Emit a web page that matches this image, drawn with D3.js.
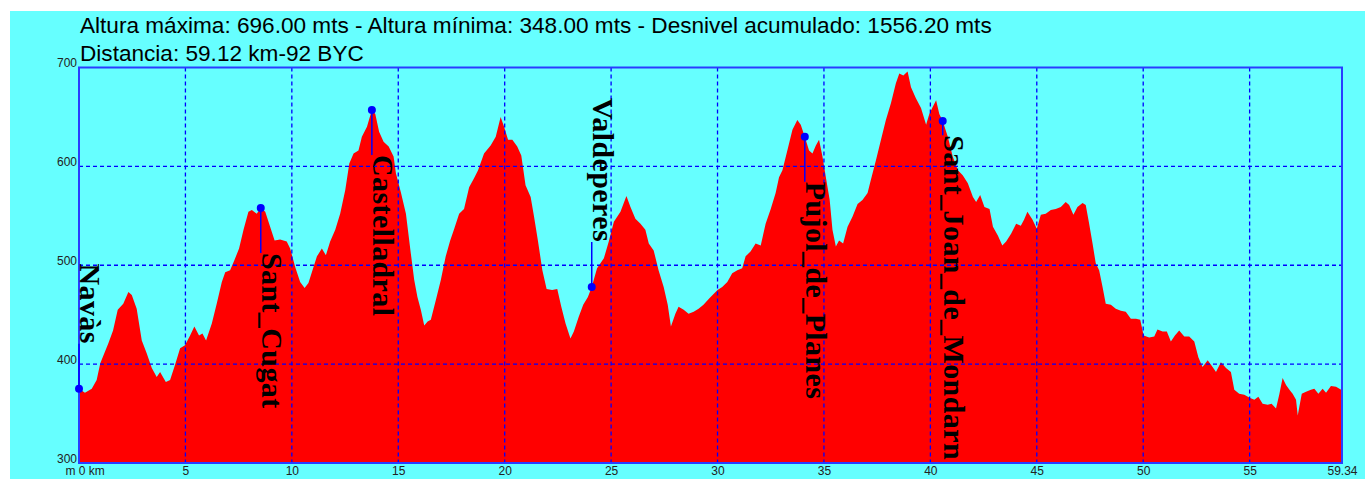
<!DOCTYPE html>
<html>
<head>
<meta charset="utf-8">
<script src="https://cdn.jsdelivr.net/npm/d3@7"></script>
<style>
  body { margin: 0; background: #fff; }
  svg { display: block; }
</style>
</head>
<body>
<svg id="perfil" width="1365" height="479"></svg>
<script>
// perfil de altura: distancia (km) y altura (m)
var distKm = [0, 0.28, 0.6, 0.83, 1.0, 1.38, 1.6, 1.82, 2.08, 2.32, 2.48, 2.71, 2.95, 3.18, 3.42, 3.65, 3.81, 4.08, 4.28, 4.51,
  4.75, 4.98, 5.22, 5.42, 5.64, 5.8, 5.97, 6.24, 6.47, 6.71, 6.87, 7.1, 7.3, 7.52, 7.73, 7.96, 8.12, 8.35, 8.54, 8.75,
  8.98, 9.19, 9.45, 9.76, 9.92, 10.16, 10.39, 10.6, 10.78, 10.97, 11.18, 11.41, 11.6, 11.8, 12.04, 12.27, 12.51, 12.7, 12.9, 13.13,
  13.29, 13.53, 13.76, 13.92, 14.1, 14.31, 14.55, 14.78, 14.89, 15.13, 15.36, 15.59, 15.75, 15.9, 16.06, 16.22, 16.38, 16.53, 16.77, 17.0,
  17.23, 17.44, 17.63, 17.86, 18.09, 18.33, 18.56, 18.75, 19.03, 19.34, 19.58, 19.81, 19.97, 20.16, 20.36, 20.59, 20.78, 20.98, 21.22, 21.38,
  21.56, 21.77, 21.97, 22.23, 22.47, 22.66, 22.86, 23.09, 23.25, 23.48, 23.69, 23.91, 24.09, 24.34, 24.66, 24.89, 25.13, 25.44, 25.72, 25.91,
  26.14, 26.38, 26.61, 26.77, 27.0, 27.23, 27.47, 27.66, 27.81, 28.02, 28.17, 28.41, 28.64, 28.88, 29.11, 29.34, 29.63, 30.0, 30.22, 30.46,
  30.69, 30.93, 31.16, 31.32, 31.55, 31.79, 32.03, 32.26, 32.5, 32.73, 32.89, 33.05, 33.28, 33.52, 33.75, 33.91, 34.1, 34.3, 34.46, 34.62,
  34.77, 34.93, 35.09, 35.27, 35.4, 35.56, 35.71, 35.9, 36.11, 36.34, 36.58, 36.81, 37.05, 37.2, 37.44, 37.68, 37.91, 38.15, 38.38, 38.54,
  38.73, 38.93, 39.09, 39.32, 39.56, 39.8, 39.95, 40.11, 40.27, 40.42, 40.58, 40.82, 41.05, 41.29, 41.52, 41.76, 42.0, 42.15, 42.34, 42.54,
  42.78, 42.94, 43.17, 43.38, 43.56, 43.8, 44.03, 44.25, 44.4, 44.56, 44.8, 45.0, 45.19, 45.42, 45.66, 45.89, 46.13, 46.36, 46.52, 46.72,
  46.91, 47.15, 47.3, 47.46, 47.62, 47.77, 47.93, 48.09, 48.24, 48.48, 48.71, 48.95, 49.18, 49.42, 49.66, 49.86, 50.02, 50.28, 50.52, 50.67,
  50.91, 51.11, 51.3, 51.49, 51.69, 51.93, 52.16, 52.4, 52.59, 52.79, 53.03, 53.26, 53.42, 53.65, 53.89, 54.12, 54.28, 54.51, 54.75, 55.0,
  55.22, 55.41, 55.61, 55.85, 56.03, 56.24, 56.39, 56.55, 56.71, 56.87, 57.02, 57.18, 57.26, 57.45, 57.65, 57.88, 58.04, 58.23, 58.43, 58.59,
  58.82, 59.06, 59.3, 59.34]
var altura = [375, 371, 375, 384, 401, 421, 434, 455, 461, 473, 470, 456, 424, 411, 396, 387, 392, 382, 384, 399,
  416, 419, 429, 438, 429, 431, 424, 441, 461, 483, 493, 495, 505, 517, 536, 554, 556, 552, 558, 554,
  539, 525, 526, 524, 517, 498, 483, 477, 482, 495, 509, 517, 510, 524, 536, 552, 576, 603, 613, 616,
  630, 640, 657, 653, 635, 625, 620, 610, 593, 573, 552, 512, 485, 468, 455, 439, 443, 445, 465, 485,
  509, 525, 537, 552, 557, 579, 588, 596, 613, 621, 630, 650, 640, 627, 627, 620, 611, 581, 569, 549,
  525, 495, 476, 475, 476, 458, 441, 426, 433, 448, 460, 468, 478, 497, 507, 524, 544, 554, 570, 559,
  547, 542, 536, 522, 515, 495, 478, 460, 438, 451, 458, 455, 451, 453, 456, 460, 467, 475, 478, 483,
  492, 495, 497, 509, 514, 522, 520, 542, 557, 573, 589, 596, 616, 637, 647, 642, 630, 616, 613, 621,
  627, 610, 589, 566, 536, 519, 525, 522, 539, 549, 562, 566, 573, 586, 606, 627, 647, 664, 684, 694,
  692, 696, 680, 669, 659, 642, 653, 660, 667, 653, 646, 630, 610, 596, 591, 583, 569, 564, 571, 559,
  557, 539, 530, 520, 524, 532, 542, 540, 546, 554, 546, 537, 551, 552, 556, 557, 559, 564, 561, 551,
  559, 563, 561, 542, 522, 502, 495, 478, 461, 460, 456, 454, 453, 446, 446, 445, 429, 427, 428, 435,
  433, 433, 423, 429, 434, 428, 428, 423, 407, 397, 404, 397, 392, 402, 396, 392, 374, 370, 369, 366,
  364, 367, 360, 359, 360, 355, 369, 386, 379, 374, 370, 364, 348, 370, 372, 374, 375, 370, 375, 371,
  378, 377, 374, 373]

// puntos de paso
var wpNombre = ['Navàs', 'Sant_Cugat', 'Castelladral', 'Valdeperes', 'Pujol_de_Planes', 'Sant_Joan_de_Mondarn']
var wpKm = [0, 8.54, 13.76, 24.09, 34.1, 40.58]
var wpAlt = [375, 558, 657, 478, 630, 646]

var xTicks = [0, 5, 10, 15, 20, 25, 30, 35, 40, 45, 50, 55, 59.34]
var yTicks = [300, 400, 500, 600, 700]
var titulo1 = 'Altura máxima: 696.00 mts - Altura mínima: 348.00 mts - Desnivel acumulado: 1556.20 mts'
var titulo2 = 'Distancia: 59.12 km-92 BYC'

var svg = d3.select('#perfil'),
    margin = {top: 67.5, right: 23, bottom: 16, left: 79},
    width = +svg.attr('width') - margin.left - margin.right,
    height = +svg.attr('height') - margin.top - margin.bottom

// fondo cian
svg.append('rect')
    .attr('x', 10).attr('y', 11)
    .attr('width', 1355).attr('height', 468)
    .attr('fill', '#66ffff')

svg.append('text').attr('x', 80).attr('y', 33)
    .style('font', '22.6px "Liberation Sans", Arial, sans-serif').attr('fill', '#000')
    .text(titulo1)
svg.append('text').attr('x', 80).attr('y', 61)
    .style('font', '22.6px "Liberation Sans", Arial, sans-serif').attr('fill', '#000')
    .text(titulo2)

var g = svg.append('g').attr('transform', 'translate(' + margin.left + ',' + margin.top + ')')

var x = d3.scaleLinear().domain([0, 59.34]).range([0, width]),
    y = d3.scaleLinear().domain([300, 700]).range([height, 0])

var puntos = distKm.map(function(d, i) { return {km: d, alt: altura[i]} })

var area = d3.area()
    .x(function(d) { return x(d.km) })
    .y0(height)
    .y1(function(d) { return y(d.alt) })

g.append('path')
    .datum(puntos)
    .attr('d', area)
    .attr('fill', '#ff0000')

// rejilla
g.selectAll('.gx')
    .data(xTicks.filter(function(d) { return d > 0 && d < 59 }))
    .enter().append('line')
    .attr('class', 'gx')
    .attr('x1', d => x(d)).attr('x2', d => x(d))
    .attr('y1', 0).attr('y2', height)
    .attr('stroke', '#0000ff').attr('stroke-width', 1.3).attr('stroke-dasharray', '4,3')

g.selectAll('.gy')
    .data(yTicks.filter(function(d) { return d > 300 && d < 700 }))
    .enter().append('line')
    .attr('class', 'gy')
    .attr('x1', 0).attr('x2', width)
    .attr('y1', d => y(d)).attr('y2', d => y(d))
    .attr('stroke', '#0000ff').attr('stroke-width', 1.3).attr('stroke-dasharray', '4,3')

// ejes
var yAxis = g.append('g')
    .call(d3.axisLeft(y).tickValues(yTicks).tickSize(0).tickPadding(2).tickFormat(d3.format('d')))
yAxis.select('.domain').remove()
yAxis.selectAll('text')
    .attr('dy', '-1')
    .style('font', '12px "Liberation Sans", Arial, sans-serif')
    .attr('fill', '#222')

var xAxis = g.append('g')
    .attr('transform', 'translate(0,' + height + ')')
    .call(d3.axisBottom(x).tickValues(xTicks).tickSize(0).tickPadding(3)
        .tickFormat(function(d) { return d === 0 ? 'm 0 km' : (d === 59.34 ? '59.34' : d) }))
xAxis.select('.domain').remove()
xAxis.selectAll('text')
    .style('font', '12px "Liberation Sans", Arial, sans-serif')
    .attr('fill', '#222')
xAxis.selectAll('.tick').filter(function(d) { return d === 0 }).select('text')
    .attr('text-anchor', 'start').attr('x', -14)

// marco
g.append('rect')
    .attr('width', width).attr('height', height)
    .attr('fill', 'none').attr('stroke', '#2a3cff').attr('stroke-width', 2)

// etiquetas de los puntos de paso
var arriba = ['Navàs', 'Valdeperes']
var wp = wpNombre.map(function(n, i) { return {nombre: n, km: wpKm[i], alt: wpAlt[i]} })

var marca = g.selectAll('.wp').data(wp).enter().append('g').attr('class', 'wp')

marca.each(function(d) {
    var m = d3.select(this)
    var px = x(d.km), py = y(d.alt)
    var txt = m.append('text')
        .style('font', 'bold 30px "Liberation Serif", "Times New Roman", serif')
        .style('letter-spacing', '0.4px')
        .attr('fill', '#000')
        .text(d.nombre)
    var len = txt.node().getComputedTextLength()
    var y0, y1
    if (arriba.indexOf(d.nombre) >= 0) {
        y1 = py - 45
        y0 = y1 - len
        m.append('line').attr('x1', px).attr('x2', px).attr('y1', py).attr('y2', y1)
    } else {
        y0 = Math.min(py + 45, height - 3 - len)
        m.append('line').attr('x1', px).attr('x2', px).attr('y1', py).attr('y2', y0)
    }
    txt.attr('transform', 'translate(' + (px + 1) + ',' + y0 + ') rotate(90)')
    m.selectAll('line').attr('stroke', '#0000ff').attr('stroke-width', 1.5)
    m.append('circle').attr('cx', px).attr('cy', py).attr('r', 4).attr('fill', '#0000ff')
})
</script>
</body>
</html>
